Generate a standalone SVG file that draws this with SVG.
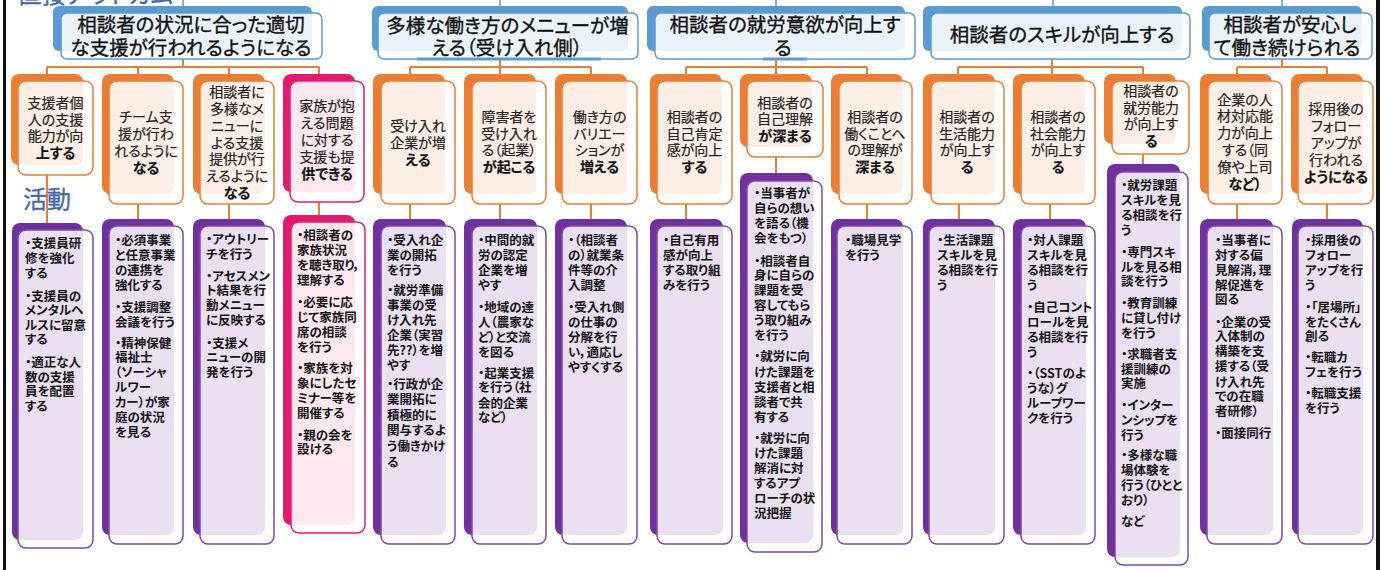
<svg xmlns="http://www.w3.org/2000/svg" width="1385" height="570" viewBox="0 0 1385 570">
<style>
text{font-family:"Noto Sans CJK JP","Noto Sans CJK SC",sans-serif;font-feature-settings:"palt";}
.tb{fill:#5b9bd5}
.tf{fill:#fff;fill-opacity:.88;stroke:#5b9bd5;stroke-width:1.5}
.ob{fill:#ed7d31}
.of{fill:#fff;fill-opacity:.88;stroke:#ed7d31;stroke-width:1.5}
.pb{fill:#e8196c}
.pf{fill:#fff;fill-opacity:.9;stroke:#e8196c;stroke-width:1.5}
.ab{fill:#7030a0}
.af{fill:#fff;fill-opacity:.85;stroke:#7f48ab;stroke-width:1.5}
.bar{fill:#5b9bd5}
.tt{font-size:19.5px;fill:#111;stroke:#111;stroke-width:.35;text-anchor:middle}
.ot{font-size:14px;fill:#222;stroke:#222;stroke-width:.2;text-anchor:middle}
.b{font-weight:bold;fill:#111}
.at{font-size:12.5px;font-weight:bold;fill:#151515}
.con{stroke:#ed7d31;stroke-width:2;fill:none}
.top{stroke:#5b9bd5;stroke-width:1.5;fill:none}
.lbl{fill:#3f68b0;font-size:24px;stroke:#3f68b0;stroke-width:.3}
</style>
<rect x="3" y="0" width="3" height="570" fill="#111"/>
<rect x="1376" y="0" width="4" height="570" fill="#111"/>
<text class="lbl" x="18" y="3" font-size="23">直接アウトカム</text>

<g id="connectors">
<path class="top" d="M183 0V6M500 0V6M776 0V6M1053 0V6M1282 0V6"/>
<path class="con" d="M183 59V67M47 67H319M47 67V74M138 67V74M229 67V74M319 67V74"/>
<path class="con" d="M500 59V74M410 67H591M410 67V74M591 67V74"/>
<path class="con" d="M776 59V74M686 67H867M686 67V74M867 67V74"/>
<path class="con" d="M1052 59V74M958 67H1143M958 67V74M1143 67V74"/>
<path class="con" d="M1282 59V67M1237 67H1327M1237 67V74M1327 67V74"/>
<path class="con" d="M47 175V223M138 204V219M229 204V219M319 202V215M410 204V219M500 204V219M591 204V219M686 204V219M776 157V173M867 204V219M959 204V219M1050 204V219M1143 154V164M1237 204V219M1327 204V219"/>
</g>

<text class="lbl" x="23" y="208">活動</text>

<!-- titles -->
<g id="t1"><rect class="tb" x="53" y="6" width="259" height="45" rx="6"/><rect class="tf" x="61" y="13" width="261" height="46" rx="6"/>
<text class="tt"><tspan x="191" y="32.2">相談者の状況に合った適切</tspan><tspan x="191" y="55.2">な支援が行われるようになる</tspan></text></g>
<g id="t2"><rect class="tb" x="372" y="6" width="256" height="45" rx="6"/><rect class="tf" x="378" y="13" width="260" height="46" rx="6"/><rect class="bar" x="417" y="57.5" width="184" height="3"/>
<text class="tt"><tspan x="507.5" y="33.2">多様な働き方のメニューが増</tspan><tspan x="507" y="55.2">える（受け入れ側）</tspan></text></g>
<g id="t3"><rect class="tb" x="647" y="6" width="258" height="45" rx="6"/><rect class="tf" x="655" y="13" width="260" height="46" rx="6"/><rect class="bar" x="763" y="57.5" width="44" height="3"/>
<text class="tt"><tspan x="785" y="32.2">相談者の就労意欲が向上す</tspan><tspan x="783" y="55.2">る</tspan></text></g>
<g id="t4"><rect class="tb" x="923" y="6" width="259" height="45" rx="6"/><rect class="tf" x="931" y="13" width="259" height="46" rx="6"/>
<text class="tt" x="1062" y="42.2">相談者のスキルが向上する</text></g>
<g id="t5"><rect class="tb" x="1202" y="6" width="160" height="45" rx="6"/><rect class="tf" x="1209" y="13" width="163" height="46" rx="6"/>
<text class="tt"><tspan x="1290" y="32.2">相談者が安心し</tspan><tspan x="1287" y="55.2">て働き続けられる</tspan></text></g>

<!-- outcomes -->
<g id="o1"><rect class="ob" x="11" y="74" width="72" height="91" rx="8"/><rect class="of" x="18" y="81" width="75" height="94" rx="8"/>
<text class="ot"><tspan x="55.5" y="107.8">支援者個</tspan><tspan x="55.5" y="124.6">人の支援</tspan><tspan x="55.5" y="141.4">能力が向</tspan><tspan class="b" x="55.5" y="158.2">上する</tspan></text></g>
<g id="o2"><rect class="ob" x="102" y="74" width="72" height="120" rx="8"/><rect class="of" x="109" y="81" width="74" height="123" rx="8"/>
<text class="ot"><tspan x="146" y="122.3">チーム支</tspan><tspan x="146" y="139.1">援が行わ</tspan><tspan x="146" y="155.9">れるように</tspan><tspan class="b" x="146" y="172.7">なる</tspan></text></g>
<g id="o3"><rect class="ob" x="193" y="74" width="72" height="120" rx="8"/><rect class="of" x="200" y="81" width="74" height="123" rx="8"/>
<text class="ot"><tspan x="237" y="97.1">相談者に</tspan><tspan x="237" y="113.9">多様なメ</tspan><tspan x="237" y="130.7">ニューに</tspan><tspan x="237" y="147.5">よる支援</tspan><tspan x="237" y="164.3">提供が行</tspan><tspan x="237" y="181.1">えるように</tspan><tspan class="b" x="237" y="197.9">なる</tspan></text></g>
<g id="o4"><rect class="pb" x="283" y="74" width="72" height="118" rx="8"/><rect class="pf" x="290" y="81" width="74" height="121" rx="8"/>
<text class="ot"><tspan x="327" y="111.4">家族が抱</tspan><tspan x="327" y="128.2">える問題</tspan><tspan x="327" y="145">に対する</tspan><tspan x="327" y="161.8">支援も提</tspan><tspan class="b" x="327" y="178.6">供できる</tspan></text></g>
<g id="o5"><rect class="ob" x="373" y="74" width="72" height="120" rx="8"/><rect class="of" x="381" y="81" width="74" height="123" rx="8"/>
<text class="ot"><tspan x="418" y="131.2">受け入れ</tspan><tspan x="418" y="148">企業が増</tspan><tspan class="b" x="418" y="164.8">える</tspan></text></g>
<g id="o6"><rect class="ob" x="464" y="74" width="72" height="120" rx="8"/><rect class="of" x="472" y="81" width="74" height="123" rx="8"/>
<text class="ot"><tspan x="509" y="121.8">障害者を</tspan><tspan x="509" y="138.6">受け入れ</tspan><tspan x="509" y="155.4">る（起業）</tspan><tspan class="b" x="509" y="172.2">が起こる</tspan></text></g>
<g id="o7"><rect class="ob" x="555" y="74" width="72" height="120" rx="8"/><rect class="of" x="562" y="81" width="75" height="123" rx="8"/>
<text class="ot"><tspan x="599.5" y="121.8">働き方の</tspan><tspan x="599.5" y="138.6">バリエー</tspan><tspan x="599.5" y="155.4">ションが</tspan><tspan class="b" x="599.5" y="172.2">増える</tspan></text></g>
<g id="o8"><rect class="ob" x="650" y="74" width="72" height="120" rx="8"/><rect class="of" x="657" y="81" width="75" height="123" rx="8"/>
<text class="ot"><tspan x="694.5" y="121.8">相談者の</tspan><tspan x="694.5" y="138.6">自己肯定</tspan><tspan x="694.5" y="155.4">感が向上</tspan><tspan class="b" x="694.5" y="172.2">する</tspan></text></g>
<g id="o9"><rect class="ob" x="740" y="74" width="72" height="73" rx="8"/><rect class="of" x="747" y="81" width="76" height="76" rx="8"/>
<text class="ot"><tspan x="785" y="107.5">相談者の</tspan><tspan x="785" y="124.3">自己理解</tspan><tspan class="b" x="785" y="141.1">が深まる</tspan></text></g>
<g id="o10"><rect class="ob" x="831" y="74" width="72" height="120" rx="8"/><rect class="of" x="839" y="81" width="73" height="123" rx="8"/>
<text class="ot"><tspan x="875" y="121.8">相談者の</tspan><tspan x="875" y="138.6">働くことへ</tspan><tspan x="875" y="155.4">の理解が</tspan><tspan class="b" x="875" y="172.2">深まる</tspan></text></g>
<g id="o11"><rect class="ob" x="923" y="74" width="72" height="120" rx="8"/><rect class="of" x="931" y="81" width="73" height="123" rx="8"/>
<text class="ot"><tspan x="967" y="121.8">相談者の</tspan><tspan x="967" y="138.6">生活能力</tspan><tspan x="967" y="155.4">が向上す</tspan><tspan class="b" x="967" y="172.2">る</tspan></text></g>
<g id="o12"><rect class="ob" x="1013" y="74" width="72" height="120" rx="8"/><rect class="of" x="1021" y="81" width="74" height="123" rx="8"/>
<text class="ot"><tspan x="1058" y="121.8">相談者の</tspan><tspan x="1058" y="138.6">社会能力</tspan><tspan x="1058" y="155.4">が向上す</tspan><tspan class="b" x="1058" y="172.2">る</tspan></text></g>
<g id="o13"><rect class="ob" x="1104" y="74" width="72" height="70" rx="8"/><rect class="of" x="1112" y="81" width="77" height="73" rx="8"/>
<text class="ot"><tspan x="1151" y="95.8">相談者の</tspan><tspan x="1151" y="112.6">就労能力</tspan><tspan x="1151" y="129.4">が向上す</tspan><tspan class="b" x="1151" y="146.2">る</tspan></text></g>
<g id="o14"><rect class="ob" x="1200" y="74" width="72" height="120" rx="8"/><rect class="of" x="1208" y="81" width="74" height="123" rx="8"/>
<text class="ot"><tspan x="1245" y="104.5">企業の人</tspan><tspan x="1245" y="121.3">材対応能</tspan><tspan x="1245" y="138.1">力が向上</tspan><tspan x="1245" y="154.9">する（同</tspan><tspan x="1245" y="171.7">僚や上司</tspan><tspan class="b" x="1245" y="188.5">など）</tspan></text></g>
<g id="o15"><rect class="ob" x="1291" y="74" width="72" height="120" rx="8"/><rect class="of" x="1298" y="81" width="75" height="123" rx="8"/>
<text class="ot"><tspan x="1336" y="114.4">採用後の</tspan><tspan x="1336" y="131.2">フォロー</tspan><tspan x="1336" y="148">アップが</tspan><tspan x="1336" y="164.8">行われる</tspan><tspan class="b" x="1336" y="181.6">ようになる</tspan></text></g>

<!-- activities -->
<g id="a1"><rect class="ab" x="12" y="223" width="71" height="317" rx="8"/><rect class="af" x="18" y="230" width="75" height="318" rx="8"/>
<text class="at"><tspan x="25" y="247.5">・支援員研</tspan><tspan x="25" y="262.5">修を強化</tspan><tspan x="25" y="277.5">する</tspan><tspan x="25" y="300.5">・支援員の</tspan><tspan x="25" y="314.5">メンタルヘ</tspan><tspan x="25" y="329.5">ルスに留意</tspan><tspan x="25" y="343.5">する</tspan><tspan x="25" y="366.5">・適正な人</tspan><tspan x="25" y="381.5">数の支援</tspan><tspan x="25" y="395.5">員を配置</tspan><tspan x="25" y="410.5">する</tspan></text></g>
<g id="a2"><rect class="ab" x="102" y="219" width="72" height="316" rx="8"/><rect class="af" x="109" y="226" width="74" height="318" rx="8"/>
<text class="at"><tspan x="115" y="244.5">・必須事業</tspan><tspan x="115" y="259.5">と任意事業</tspan><tspan x="115" y="274.5">の連携を</tspan><tspan x="115" y="289.5">強化する</tspan><tspan x="115" y="311.5">・支援調整</tspan><tspan x="115" y="326.5">会議を行う</tspan><tspan x="115" y="347.5">・精神保健</tspan><tspan x="115" y="361.5">福祉士</tspan><tspan x="115" y="376.5">（ソーシャ</tspan><tspan x="115" y="391.5">ルワー</tspan><tspan x="115" y="406.5">カー）が家</tspan><tspan x="115" y="421.5">庭の状況</tspan><tspan x="115" y="436.5">を見る</tspan></text></g>
<g id="a3"><rect class="ab" x="193" y="219" width="72" height="316" rx="8"/><rect class="af" x="200" y="226" width="74" height="318" rx="8"/>
<text class="at"><tspan x="206" y="243.5">・アウトリー</tspan><tspan x="206" y="258.5">チを行う</tspan><tspan x="206" y="280.5">・アセスメン</tspan><tspan x="206" y="294.5">ト結果を行</tspan><tspan x="206" y="309.5">動メニュー</tspan><tspan x="206" y="324.5">に反映する</tspan><tspan x="206" y="347.5">・支援メ</tspan><tspan x="206" y="361.5">ニューの開</tspan><tspan x="206" y="376.5">発を行う</tspan></text></g>
<g id="a4"><rect class="pb" x="283" y="215" width="72" height="310" rx="8"/><rect class="pf" x="291" y="222" width="74" height="311" rx="8"/>
<text class="at"><tspan x="297" y="239.5">・相談者の</tspan><tspan x="297" y="254.5">家族状況</tspan><tspan x="297" y="269.5">を聴き取り，</tspan><tspan x="297" y="284.5">理解する</tspan><tspan x="297" y="306.5">・必要に応</tspan><tspan x="297" y="321.5">じて家族同</tspan><tspan x="297" y="336.5">席の相談</tspan><tspan x="297" y="351.5">を行う</tspan><tspan x="297" y="372.5">・家族を対</tspan><tspan x="297" y="387.5">象にしたセ</tspan><tspan x="297" y="402.5">ミナー等を</tspan><tspan x="297" y="417.5">開催する</tspan><tspan x="297" y="439.5">・親の会を</tspan><tspan x="297" y="453.5">設ける</tspan></text></g>
<g id="a5"><rect class="ab" x="373" y="219" width="73" height="316" rx="8"/><rect class="af" x="381" y="226" width="74" height="318" rx="8"/>
<text class="at"><tspan x="387" y="244.5">・受入れ企</tspan><tspan x="387" y="259.5">業の開拓</tspan><tspan x="387" y="274.5">を行う</tspan><tspan x="387" y="294.5">・就労準備</tspan><tspan x="387" y="309.5">事業の受</tspan><tspan x="387" y="324.5">け入れ先</tspan><tspan x="387" y="339.5">企業（実習</tspan><tspan x="387" y="354.5">先??）を増</tspan><tspan x="387" y="369.5">やす</tspan><tspan x="387" y="388.5">・行政が企</tspan><tspan x="387" y="403.5">業開拓に</tspan><tspan x="387" y="419.5">積極的に</tspan><tspan x="387" y="434.5">関与するよ</tspan><tspan x="387" y="450.5">う働きかけ</tspan><tspan x="387" y="466.5">る</tspan></text></g>
<g id="a6"><rect class="ab" x="464" y="219" width="73" height="316" rx="8"/><rect class="af" x="472" y="226" width="74" height="318" rx="8"/>
<text class="at"><tspan x="478" y="244.5">・中間的就</tspan><tspan x="478" y="259.5">労の認定</tspan><tspan x="478" y="274.5">企業を増</tspan><tspan x="478" y="289.5">やす</tspan><tspan x="478" y="311.5">・地域の達</tspan><tspan x="478" y="326.5">人（農家な</tspan><tspan x="478" y="341.5">ど）と交流</tspan><tspan x="478" y="356.5">を図る</tspan><tspan x="478" y="377.5">・起業支援</tspan><tspan x="478" y="391.5">を行う（社</tspan><tspan x="478" y="407.5">会的企業</tspan><tspan x="478" y="421.5">など）</tspan></text></g>
<g id="a7"><rect class="ab" x="555" y="219" width="72" height="316" rx="8"/><rect class="af" x="562" y="226" width="75" height="318" rx="8"/>
<text class="at"><tspan x="568" y="244.5">・（相談者</tspan><tspan x="568" y="259.5">の）就業条</tspan><tspan x="568" y="274.5">件等の介</tspan><tspan x="568" y="289.5">入調整</tspan><tspan x="568" y="311.5">・受入れ側</tspan><tspan x="568" y="326.5">の仕事の</tspan><tspan x="568" y="341.5">分解を行</tspan><tspan x="568" y="356.5">い，適応し</tspan><tspan x="568" y="371.5">やすくする</tspan></text></g>
<g id="a8"><rect class="ab" x="650" y="219" width="73" height="316" rx="8"/><rect class="af" x="657" y="226" width="75" height="318" rx="8"/>
<text class="at"><tspan x="663" y="244.5">・自己有用</tspan><tspan x="663" y="259.5">感が向上</tspan><tspan x="663" y="274.5">する取り組</tspan><tspan x="663" y="289.5">みを行う</tspan></text></g>
<g id="a9"><rect class="ab" x="740" y="173" width="73" height="370" rx="8"/><rect class="af" x="747" y="181" width="75" height="371" rx="8"/>
<text class="at"><tspan x="754" y="197.5">・当事者が</tspan><tspan x="754" y="212.5">自らの想い</tspan><tspan x="754" y="227.5">を語る（機</tspan><tspan x="754" y="242.5">会をもつ）</tspan><tspan x="754" y="265.5">・相談者自</tspan><tspan x="754" y="279.5">身に自らの</tspan><tspan x="754" y="294.5">課題を受</tspan><tspan x="754" y="309.5">容してもら</tspan><tspan x="754" y="324.5">う取り組み</tspan><tspan x="754" y="339.5">を行う</tspan><tspan x="754" y="360.5">・就労に向</tspan><tspan x="754" y="376.5">けた課題を</tspan><tspan x="754" y="391.5">支援者と相</tspan><tspan x="754" y="406.5">談者で共</tspan><tspan x="754" y="421.5">有する</tspan><tspan x="754" y="442.5">・就労に向</tspan><tspan x="754" y="457.5">けた課題</tspan><tspan x="754" y="472.5">解消に対</tspan><tspan x="754" y="487.5">するアプ</tspan><tspan x="754" y="502.5">ローチの状</tspan><tspan x="754" y="517.5">況把握</tspan></text></g>
<g id="a10"><rect class="ab" x="831" y="219" width="72" height="316" rx="8"/><rect class="af" x="837" y="226" width="75" height="318" rx="8"/>
<text class="at"><tspan x="845" y="244.5">・職場見学</tspan><tspan x="845" y="259.5">を行う</tspan></text></g>
<g id="a11"><rect class="ab" x="923" y="219" width="72" height="316" rx="8"/><rect class="af" x="929" y="226" width="75" height="318" rx="8"/>
<text class="at"><tspan x="937" y="244.5">・生活課題</tspan><tspan x="937" y="259.5">スキルを見</tspan><tspan x="937" y="274.5">る相談を行</tspan><tspan x="937" y="289.5">う</tspan></text></g>
<g id="a12"><rect class="ab" x="1013" y="219" width="73" height="316" rx="8"/><rect class="af" x="1021" y="226" width="74" height="318" rx="8"/>
<text class="at"><tspan x="1027" y="244.5">・対人課題</tspan><tspan x="1027" y="259.5">スキルを見</tspan><tspan x="1027" y="274.5">る相談を行</tspan><tspan x="1027" y="289.5">う</tspan><tspan x="1027" y="311.5">・自己コント</tspan><tspan x="1027" y="326.5">ロールを見</tspan><tspan x="1027" y="341.5">る相談を行</tspan><tspan x="1027" y="356.5">う</tspan><tspan x="1027" y="377.5">・（SSTのよ</tspan><tspan x="1027" y="392.5">うな）グ</tspan><tspan x="1027" y="407.5">ループワー</tspan><tspan x="1027" y="422.5">クを行う</tspan></text></g>
<g id="a13"><rect class="ab" x="1107" y="164" width="73" height="393" rx="8"/><rect class="af" x="1115" y="172" width="73" height="393" rx="8"/>
<text class="at"><tspan x="1121" y="189.5">・就労課題</tspan><tspan x="1121" y="204.5">スキルを見</tspan><tspan x="1121" y="219.5">る相談を行</tspan><tspan x="1121" y="234.5">う</tspan><tspan x="1121" y="256.5">・専門スキ</tspan><tspan x="1121" y="271.5">ルを見る相</tspan><tspan x="1121" y="285.5">談を行う</tspan><tspan x="1121" y="307.5">・教育訓練</tspan><tspan x="1121" y="322.5">に貸し付け</tspan><tspan x="1121" y="337.5">を行う</tspan><tspan x="1121" y="358.5">・求職者支</tspan><tspan x="1121" y="373.5">援訓練の</tspan><tspan x="1121" y="387.5">実施</tspan><tspan x="1121" y="409.5">・インター</tspan><tspan x="1121" y="424.5">ンシップを</tspan><tspan x="1121" y="439.5">行う</tspan><tspan x="1121" y="459.5">・多様な職</tspan><tspan x="1121" y="474.5">場体験を</tspan><tspan x="1121" y="489.5">行う（ひとと</tspan><tspan x="1121" y="504.5">おり）</tspan><tspan x="1121" y="525.5">など</tspan></text></g>
<g id="a14"><rect class="ab" x="1200" y="219" width="73" height="316" rx="8"/><rect class="af" x="1207" y="226" width="75" height="318" rx="8"/>
<text class="at"><tspan x="1215" y="244.5">・当事者に</tspan><tspan x="1215" y="259.5">対する偏</tspan><tspan x="1215" y="274.5">見解消，理</tspan><tspan x="1215" y="289.5">解促進を</tspan><tspan x="1215" y="303.5">図る</tspan><tspan x="1215" y="326.5">・企業の受</tspan><tspan x="1215" y="340.5">入体制の</tspan><tspan x="1215" y="355.5">構築を支</tspan><tspan x="1215" y="370.5">援する（受</tspan><tspan x="1215" y="386.5">け入れ先</tspan><tspan x="1215" y="400.5">での在職</tspan><tspan x="1215" y="415.5">者研修）</tspan><tspan x="1215" y="437.5">・面接同行</tspan></text></g>
<g id="a15"><rect class="ab" x="1292" y="219" width="71" height="316" rx="8"/><rect class="af" x="1298" y="226" width="75" height="318" rx="8"/>
<text class="at"><tspan x="1305" y="244.5">・採用後の</tspan><tspan x="1305" y="259.5">フォロー</tspan><tspan x="1305" y="274.5">アップを行</tspan><tspan x="1305" y="289.5">う</tspan><tspan x="1305" y="311.5">・「居場所」</tspan><tspan x="1305" y="326.5">をたくさん</tspan><tspan x="1305" y="340.5">創る</tspan><tspan x="1305" y="361.5">・転職カ</tspan><tspan x="1305" y="376.5">フェを行う</tspan><tspan x="1305" y="397.5">・転職支援</tspan><tspan x="1305" y="412.5">を行う</tspan></text></g>
</svg>
